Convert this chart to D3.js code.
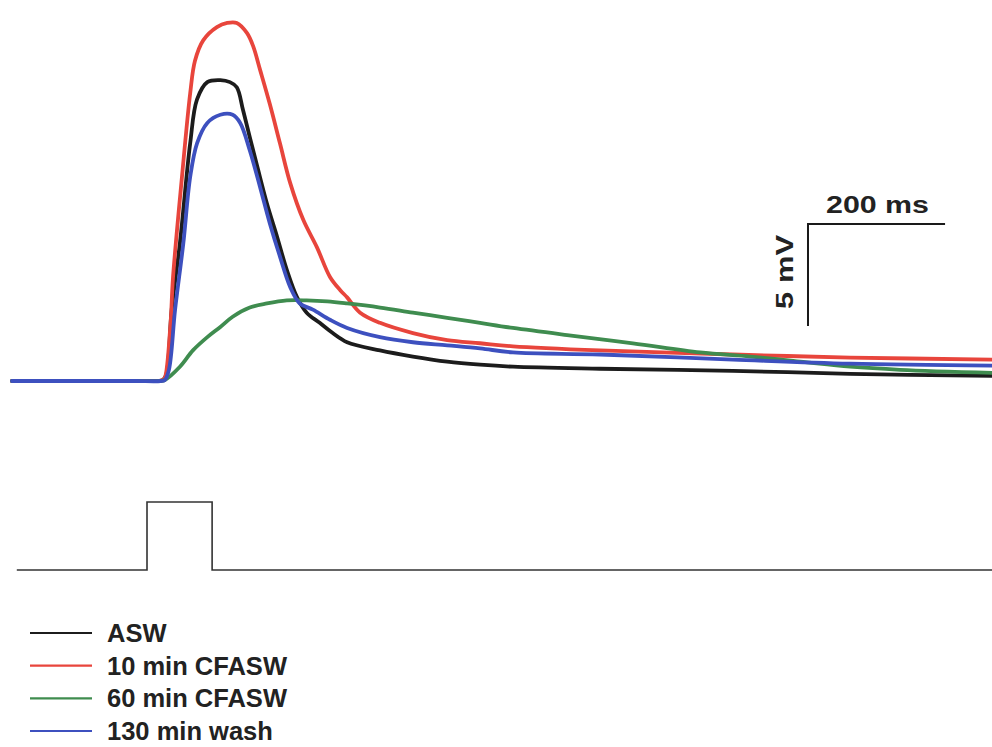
<!DOCTYPE html>
<html>
<head>
<meta charset="utf-8">
<script src="https://cdn.jsdelivr.net/npm/d3@7"></script>
<style>
  html, body { margin: 0; padding: 0; background: #ffffff; }
  svg { display: block; }
  text { font-family: "Liberation Sans", Arial, sans-serif; font-weight: bold; fill: #222; }
</style>
</head>
<body>
<svg id="chart" width="992" height="747"></svg>
<script>
// ---- Data (time in ms, membrane potential in mV relative to baseline) ----
const seriesNames = ["ASW", "10 min CFASW", "60 min CFASW", "130 min wash"];
const seriesColors = ["#1c1c1c", "#e8453c", "#3f8c4f", "#3d50bf"];

const asw = [
  [0,0],[60,0],[120,0],[180,0],[214,0],[220,0.05],[225,0.3],[233,3.5],[245,6.75],[260,11.65],[270,13.8],[285,14.65],
  [304,14.75],[318,14.65],[328,14.4],[337,13.3],[347,11.95],[358,10.5],[372,8.7],
  [387,7.05],[401,5.45],[416,4.1],[430,3.35],[449,2.85],[468,2.35],[489,1.9],
  [537,1.5],[585,1.2],[635,0.95],[683,0.8],[731,0.7],[858,0.6],[1052,0.5],
  [1223,0.35],[1430,0.25]
];
const cfasw10 = [
  [0,0],[60,0],[120,0],[180,0],[214,0],[220,0.05],[223,0.15],[231,2.65],[235,5.1],[248,10.0],[260,14.1],[267,15.7],
  [279,16.7],[299,17.35],[314,17.55],[328,17.55],[343,17.05],[352,16.4],[362,15.25],
  [376,13.6],[391,11.65],[406,9.7],[425,7.9],[445,6.55],[464,5.1],[479,4.45],
  [489,4.1],[508,3.35],[537,2.85],[585,2.35],[635,2.0],[683,1.85],[731,1.7],
  [858,1.5],[1052,1.3],[1223,1.15],[1430,1.05]
];
const cfasw60 = [
  [0,0],[60,0],[120,0],[180,0],[215,0],[223,0.05],[245,0.7],[264,1.5],[285,2.15],[304,2.65],[322,3.15],[347,3.6],
  [372,3.8],[401,3.95],[430,3.95],[460,3.9],[489,3.8],[537,3.6],[585,3.35],
  [635,3.1],[683,2.85],[731,2.6],[810,2.25],[906,1.85],[1004,1.4],[1077,1.2],
  [1150,0.95],[1223,0.7],[1296,0.55],[1430,0.4]
];
const wash130 = [
  [0,0],[60,0],[120,0],[180,0],[217,0],[223,0.05],[229,0.55],[238,3.5],[250,6.75],[260,10.0],[270,11.65],[285,12.65],
  [304,13.05],[322,13.05],[333,12.65],[347,11.3],[362,9.5],[376,7.75],[391,6.1],
  [406,4.6],[420,3.8],[439,3.5],[464,3.0],[489,2.6],[537,2.15],[585,1.9],[635,1.75],
  [683,1.6],[731,1.4],[858,1.3],[1052,1.05],[1223,0.85],[1430,0.75]
];

// stimulus (0 = off, 1 = on)
const stimulus = [[7,0],[197,0],[197,1],[292,1],[292,0],[1430,0]];

// scale bars
const scaleBarTime = 200;   // ms
const scaleBarVolt = 5;     // mV
const scaleBarOrigin = [1161.5, 7.7]; // ms, mV (top-left corner of the bar)

// ---- Drawing ----
const svg = d3.select("#chart");

const x = d3.scaleLinear().domain([0, 1430]).range([12, 992]);
const y = d3.scaleLinear().domain([0, 5]).range([381, 279]);
const yStim = d3.scaleLinear().domain([0, 1]).range([570, 502]);

const line = d3.line().x(d => x(d[0])).y(d => y(d[1])).curve(d3.curveCatmullRom.alpha(0.5));

const traces = [asw, cfasw10, cfasw60, wash130];
const drawOrder = [0, 1, 2, 3];
drawOrder.forEach(i => {
  svg.append("path")
    .datum(traces[i])
    .attr("d", line)
    .attr("fill", "none")
    .attr("stroke", seriesColors[i])
    .attr("stroke-width", 3.8)
    .attr("stroke-linejoin", "round")
    .attr("stroke-linecap", "round");
});

// stimulus trace
svg.append("path")
  .datum(stimulus)
  .attr("d", d3.line().x(d => x(d[0])).y(d => yStim(d[1])))
  .attr("fill", "none")
  .attr("stroke", "#333")
  .attr("stroke-width", 1.6);

// scale bar
const sbx0 = x(scaleBarOrigin[0]);
const sby0 = y(scaleBarOrigin[1]);
const sbx1 = x(scaleBarOrigin[0] + scaleBarTime);
const sby1 = y(scaleBarOrigin[1] - scaleBarVolt);
svg.append("path")
  .attr("d", `M${sbx1},${sby0}H${sbx0}V${sby1}`)
  .attr("fill", "none")
  .attr("stroke", "#1a1a1a")
  .attr("stroke-width", 2);

svg.append("text")
  .attr("x", (sbx0 + sbx1) / 2 + 1)
  .attr("y", sby0 - 11)
  .attr("text-anchor", "middle")
  .attr("font-size", 24)
  .attr("textLength", 103)
  .attr("lengthAdjust", "spacingAndGlyphs")
  .text(`${scaleBarTime} ms`);

svg.append("text")
  .attr("transform", `translate(${sbx0 - 15},${(sby0 + sby1) / 2 - 3}) rotate(-90)`)
  .attr("text-anchor", "middle")
  .attr("font-size", 24)
  .attr("textLength", 74)
  .attr("lengthAdjust", "spacingAndGlyphs")
  .text(`${scaleBarVolt} mV`);

// legend
const legendY = d3.scalePoint().domain(seriesNames).range([633, 731]);
const lg = svg.append("g");
seriesNames.forEach((name, i) => {
  const yy = legendY(name);
  lg.append("line")
    .attr("x1", 30).attr("x2", 92)
    .attr("y1", yy).attr("y2", yy)
    .attr("stroke", seriesColors[i])
    .attr("stroke-width", 2.2);
  lg.append("text")
    .attr("x", 107)
    .attr("y", yy + 9)
    .attr("font-size", 25.5)
    .text(name);
});
</script>
</body>
</html>
